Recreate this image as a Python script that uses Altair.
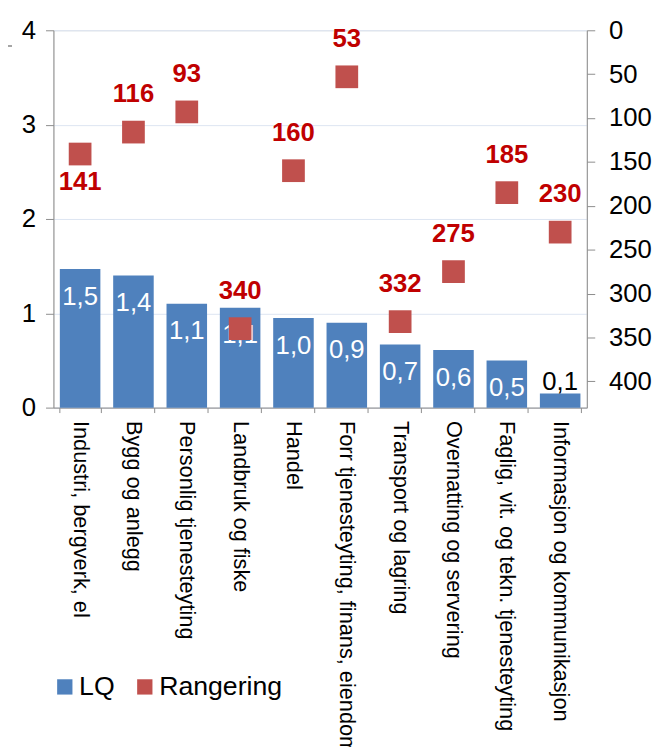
import altair as alt
import pandas as pd

categories = [
    "Industri, bergverk, el",
    "Bygg og anlegg",
    "Personlig tjenesteyting",
    "Landbruk og fiske",
    "Handel",
    "Forr tjenesteyting, finans, eiendom",
    "Transport og lagring",
    "Overnatting og servering",
    "Faglig, vit. og tekn. tjenesteyting",
    "Informasjon og kommunikasjon",
]
lq = [1.47, 1.40, 1.10, 1.06, 0.95, 0.90, 0.67, 0.61, 0.50, 0.15]
lq_labels = ["1,5", "1,4", "1,1", "1,1", "1,0", "0,9", "0,7", "0,6", "0,5", "0,1"]
rank = [141, 116, 93, 340, 160, 53, 332, 275, 185, 230]
series = ["LQ", "Rangering"]
left_ticks = [0, 1, 2, 3, 4]
right_ticks = [0, 50, 100, 150, 200, 250, 300, 350, 400]

df = pd.DataFrame({"cat": categories, "lq": lq, "lq_label": lq_labels, "rank": rank})

FONT = "Liberation Sans"
BLUE = "#4F81BD"
RED = "#C0504D"
AXIS_GRAY = "#8C8C8C"

x_enc = alt.X(
    "cat:N",
    sort=categories,
    title=None,
    scale=alt.Scale(paddingInner=0.24, paddingOuter=0.12),
    axis=alt.Axis(
        labelAngle=90,
        labelFontSize=22,
        labelFont=FONT,
        labelColor="black",
        labelPadding=8,
        labelLimit=400,
        tickSize=5,
        tickBand="extent",
        domainColor=AXIS_GRAY,
        tickColor=AXIS_GRAY,
    ),
)

left_axis = alt.Axis(
    values=left_ticks,
    title=None,
    grid=True,
    gridColor="#DCE5F2",
    labelFontSize=26,
    labelFont=FONT,
    labelColor="black",
    tickSize=8,
    labelPadding=10,
    domainColor=AXIS_GRAY,
    tickColor=AXIS_GRAY,
    format="d",
)
y_lq = alt.Y("lq:Q", scale=alt.Scale(domain=[0, 4], nice=False), axis=left_axis)

right_axis = alt.Axis(
    orient="right",
    values=right_ticks,
    title=None,
    grid=False,
    labelFontSize=26,
    labelFont=FONT,
    labelColor="black",
    tickSize=8,
    labelPadding=14,
    domainColor=AXIS_GRAY,
    tickColor=AXIS_GRAY,
    format="d",
)
y_rank = alt.Y("rank:Q", scale=alt.Scale(domain=[0, 430], reverse=True, nice=False), axis=right_axis)

color_scale = alt.Scale(domain=series, range=[BLUE, RED])
legend = alt.Legend(
    title=None,
    orient="none",
    legendX=-2,
    legendY=651,
    direction="horizontal",
    symbolType="square",
    symbolSize=240,
    symbolStrokeWidth=0,
    labelFontSize=27,
    labelFont=FONT,
    labelColor="black",
    labelOffset=1,
    columnPadding=16,
)

base = alt.Chart(df)

bars = base.transform_calculate(series="'LQ'").mark_bar().encode(
    x=x_enc, y=y_lq,
    color=alt.Color("series:N", scale=color_scale, legend=legend),
)
bar_text_in = base.transform_filter("datum.lq >= 0.3").mark_text(
    color="white", fontSize=26, font=FONT, baseline="middle", dy=28
).encode(x=x_enc, y=y_lq, text="lq_label:N")
bar_text_out = base.transform_filter("datum.lq < 0.3").mark_text(
    color="black", fontSize=26, font=FONT, baseline="middle", dy=-12
).encode(x=x_enc, y=y_lq, text="lq_label:N")

squares = base.transform_calculate(series="'Rangering'").mark_square(
    size=529, opacity=1, filled=True
).encode(
    x=x_enc, y=y_rank,
    color=alt.Color("series:N", scale=color_scale, legend=legend),
)
rank_text_above = base.transform_filter("datum.rank != 141").mark_text(
    color="#C00000", fontSize=26, font=FONT, fontWeight="bold", baseline="middle", dy=-38
).encode(x=x_enc, y=y_rank, text="rank:Q")
rank_text_below = base.transform_filter("datum.rank == 141").mark_text(
    color="#C00000", fontSize=26, font=FONT, fontWeight="bold", baseline="middle", dy=28
).encode(x=x_enc, y=y_rank, text="rank:Q")

stub = alt.Chart(df).mark_rule(color="#A6A6A6", strokeWidth=1.5).encode(
    x=alt.value(-54), x2=alt.value(-42), y=alt.value(16)
)

left_layer = alt.layer(bars, bar_text_in, bar_text_out)
right_layer = alt.layer(squares, rank_text_above, rank_text_below)

chart = (
    alt.layer(left_layer, right_layer, stub)
    .resolve_scale(y="independent")
    .properties(
        width=540,
        height=382,
        autosize=alt.AutoSizeParams(type="none"),
        padding={"left": 46, "top": 18, "right": 68, "bottom": 339},
    )
    .configure_view(stroke=None)
    .configure(background="white")
)

chart.save("out.html", embed_options={"renderer": "svg", "actions": False})
